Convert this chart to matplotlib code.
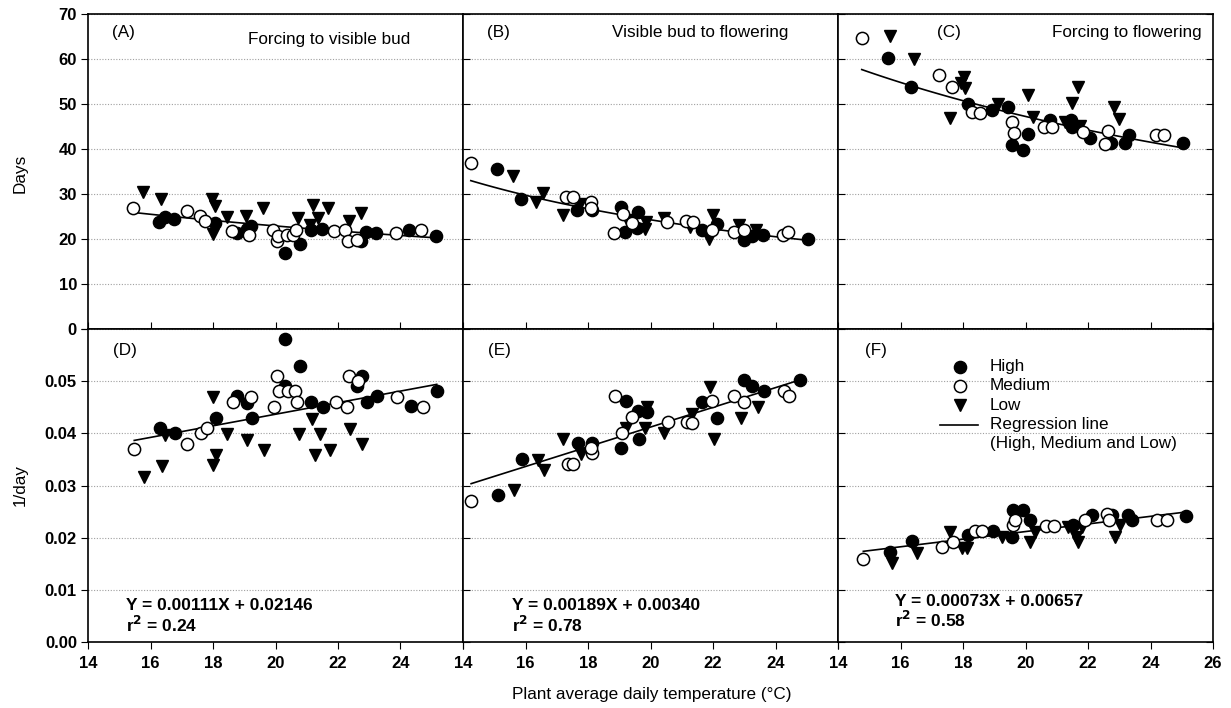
import numpy as np
import matplotlib
matplotlib.use("Agg")
import matplotlib.pyplot as plt

plt.rcParams['font.family'] = ['Liberation Sans', 'DejaVu Sans']

# ---------------- data: days (top row) ----------------
A_high_x = [16.28, 16.46, 16.75, 18.06, 18.76, 19.08, 19.21, 20.30, 20.78, 21.13, 21.50, 22.74, 22.90, 23.22, 24.28, 25.12]
A_high_y = [23.8, 24.8, 24.4, 23.5, 21.3, 22.2, 22.9, 17.0, 18.8, 22.0, 22.2, 19.6, 21.5, 21.3, 22.0, 20.7]
A_med_x = [15.45, 17.16, 17.58, 17.74, 18.62, 19.16, 19.93, 20.04, 20.09, 20.36, 20.57, 20.66, 21.88, 22.22, 22.33, 22.62, 23.86, 24.64]
A_med_y = [26.8, 26.3, 25.1, 24.1, 21.7, 21.0, 22.0, 19.6, 20.7, 20.8, 20.9, 22.0, 21.7, 22.0, 19.5, 19.8, 21.3, 22.0]
A_low_x = [15.75, 16.33, 17.96, 18.06, 17.99, 18.44, 19.06, 19.59, 20.73, 21.21, 21.37, 21.69, 21.10, 22.35, 22.73]
A_low_y = [30.5, 29.0, 28.9, 27.4, 21.1, 25.0, 25.1, 26.8, 24.7, 27.6, 24.6, 27.0, 23.1, 24.1, 25.7]

B_high_x = [15.08, 15.85, 17.64, 18.12, 19.05, 19.18, 19.61, 19.56, 21.64, 22.12, 22.98, 23.24, 23.61, 25.05]
B_high_y = [35.6, 28.8, 26.4, 26.4, 27.2, 21.5, 26.1, 22.4, 22.0, 23.3, 19.8, 20.7, 20.9, 20.1]
B_med_x = [14.25, 17.30, 17.51, 18.10, 18.09, 18.84, 19.11, 19.40, 20.54, 21.14, 21.37, 21.96, 22.66, 22.98, 24.23, 24.41]
B_med_y = [37.0, 29.4, 29.3, 28.3, 27.0, 21.4, 25.5, 23.5, 23.8, 24.1, 23.8, 22.0, 21.6, 22.0, 20.9, 21.5]
B_low_x = [15.59, 16.34, 16.55, 17.21, 17.74, 19.24, 19.82, 19.86, 20.43, 21.26, 21.88, 22.01, 22.84, 23.38]
B_low_y = [33.9, 28.3, 30.3, 25.3, 27.8, 24.2, 22.2, 23.8, 24.6, 22.7, 20.1, 25.3, 23.1, 22.0]

C_high_x = [15.59, 16.34, 18.15, 18.92, 19.45, 19.58, 19.91, 20.07, 20.78, 21.46, 21.50, 22.06, 22.74, 23.18, 23.31, 25.05]
C_high_y = [60.3, 53.7, 50.1, 48.7, 49.3, 40.9, 39.8, 43.3, 46.4, 46.4, 45.0, 42.4, 41.3, 41.3, 43.1, 41.3]
C_med_x = [14.76, 17.23, 17.64, 18.28, 18.54, 19.56, 19.64, 20.60, 20.84, 21.85, 22.63, 22.54, 24.17, 24.44]
C_med_y = [64.7, 56.4, 53.7, 48.3, 47.9, 46.1, 43.5, 45.0, 45.0, 43.8, 44.0, 41.1, 43.1, 43.1]
C_low_x = [15.66, 16.44, 17.58, 18.04, 17.94, 18.06, 19.13, 20.07, 20.25, 21.26, 21.67, 21.48, 21.74, 22.84, 22.98]
C_low_y = [65.1, 60.1, 47.0, 56.0, 54.6, 53.5, 50.0, 52.1, 47.2, 45.9, 53.7, 50.3, 45.1, 49.4, 46.7]

# ---------------- data: 1/day (bottom row) ----------------
D_high_x = [20.30, 20.78, 16.30, 16.78, 18.10, 18.76, 19.08, 19.24, 20.30, 21.13, 21.51, 22.60, 22.78, 22.92, 23.24, 24.32, 25.16]
D_high_y = [0.0581, 0.0530, 0.0411, 0.0400, 0.0430, 0.0472, 0.0459, 0.0430, 0.0491, 0.0461, 0.0451, 0.0491, 0.0510, 0.0461, 0.0472, 0.0452, 0.0482]
D_med_x = [15.48, 17.18, 17.62, 17.80, 18.65, 19.21, 19.95, 20.06, 20.12, 20.41, 20.62, 20.68, 21.92, 22.28, 22.35, 22.65, 23.89, 24.71]
D_med_y = [0.0370, 0.0380, 0.0400, 0.0410, 0.0461, 0.0470, 0.0451, 0.0510, 0.0481, 0.0481, 0.0481, 0.0461, 0.0461, 0.0451, 0.0510, 0.0500, 0.0470, 0.0451]
D_low_x = [15.79, 16.36, 16.46, 17.99, 18.10, 18.01, 18.46, 19.08, 19.63, 20.76, 21.16, 21.26, 21.42, 21.74, 22.38, 22.78]
D_low_y = [0.0317, 0.0337, 0.0397, 0.0339, 0.0358, 0.0469, 0.0398, 0.0388, 0.0368, 0.0399, 0.0427, 0.0358, 0.0399, 0.0368, 0.0408, 0.0379]

E_high_x = [15.11, 15.88, 17.67, 18.14, 19.06, 19.21, 19.59, 19.88, 19.62, 21.66, 22.14, 23.00, 23.24, 23.64, 24.78]
E_high_y = [0.0282, 0.0351, 0.0382, 0.0381, 0.0371, 0.0462, 0.0443, 0.0440, 0.0390, 0.0461, 0.0430, 0.0502, 0.0491, 0.0482, 0.0502]
E_med_x = [14.26, 17.35, 17.53, 18.12, 18.10, 18.86, 19.10, 19.42, 20.55, 21.16, 21.34, 21.96, 22.68, 23.00, 24.28, 24.43]
E_med_y = [0.0271, 0.0341, 0.0341, 0.0362, 0.0371, 0.0472, 0.0400, 0.0432, 0.0422, 0.0422, 0.0420, 0.0462, 0.0472, 0.0461, 0.0482, 0.0472]
E_low_x = [15.64, 16.39, 16.60, 17.21, 17.78, 19.21, 19.82, 19.88, 20.44, 21.32, 21.90, 22.04, 22.90, 23.43]
E_low_y = [0.0291, 0.0349, 0.0330, 0.0390, 0.0360, 0.0410, 0.0410, 0.0451, 0.0400, 0.0438, 0.0489, 0.0390, 0.0429, 0.0451]

F_high_x = [15.66, 16.36, 18.17, 18.97, 19.56, 19.59, 19.93, 20.14, 21.53, 22.12, 22.76, 23.29, 23.40, 25.14]
F_high_y = [0.0172, 0.0194, 0.0205, 0.0213, 0.0202, 0.0253, 0.0253, 0.0234, 0.0224, 0.0243, 0.0243, 0.0243, 0.0234, 0.0242]
F_med_x = [14.81, 17.32, 17.69, 18.38, 18.60, 19.59, 19.66, 20.66, 20.91, 21.90, 22.60, 22.68, 24.22, 24.52]
F_med_y = [0.0160, 0.0183, 0.0192, 0.0213, 0.0213, 0.0224, 0.0234, 0.0223, 0.0223, 0.0234, 0.0245, 0.0234, 0.0234, 0.0234]
F_low_x = [15.72, 16.52, 17.58, 17.96, 18.12, 19.24, 20.14, 20.30, 21.37, 21.69, 21.62, 21.80, 22.86, 23.02]
F_low_y = [0.0151, 0.0170, 0.0210, 0.0181, 0.0181, 0.0202, 0.0192, 0.0211, 0.0221, 0.0192, 0.0202, 0.0221, 0.0202, 0.0224]

# regression coefficients (slope, intercept) for 1/day = a*T + b
reg_slope = [0.00111, 0.00189, 0.00073]
reg_intercept = [0.02146, 0.00340, 0.00657]
reg_r2 = ["0.24", "0.78", "0.58"]

panel_letters_top = ["(A)", "(B)", "(C)"]
panel_letters_bot = ["(D)", "(E)", "(F)"]
panel_titles = ["Forcing to visible bud", "Visible bud to flowering", "Forcing to flowering"]

x_ticks = [14, 16, 18, 20, 22, 24, 26]
top_yticks = [0, 10, 20, 30, 40, 50, 60, 70]
bot_yticks = [0.00, 0.01, 0.02, 0.03, 0.04, 0.05, 0.06]

top_data = [
    (A_high_x, A_high_y, A_med_x, A_med_y, A_low_x, A_low_y),
    (B_high_x, B_high_y, B_med_x, B_med_y, B_low_x, B_low_y),
    (C_high_x, C_high_y, C_med_x, C_med_y, C_low_x, C_low_y),
]
bot_data = [
    (D_high_x, D_high_y, D_med_x, D_med_y, D_low_x, D_low_y),
    (E_high_x, E_high_y, E_med_x, E_med_y, E_low_x, E_low_y),
    (F_high_x, F_high_y, F_med_x, F_med_y, F_low_x, F_low_y),
]

W, H = 1231, 708
fig = plt.figure(figsize=(W / 100, H / 100), dpi=100)

x0, pw = 88, 375
top_y0, top_y1 = 14, 329
bot_y0, bot_y1 = 329, 642

MS = 8.8
TXT = 12.3
tick_font = dict(fontsize=12, fontweight='bold')


def draw_points(ax, d):
    hx, hy, mx, my, lx, ly = d
    ax.plot(lx, ly, 'v', ms=MS, color='black', mec='black', ls='none', zorder=3)
    ax.plot(hx, hy, 'o', ms=MS, color='black', mec='black', ls='none', zorder=3)
    ax.plot(mx, my, 'o', ms=MS, mfc='white', mec='black', mew=1.1, ls='none', zorder=3)


def style_axes(ax, col, row):
    for s in ax.spines.values():
        s.set_linewidth(1.2)
    ax.set_xlim(14, 26)
    ax.set_xticks(x_ticks)
    ax.grid(axis='y', color='#a0a0a0', linestyle=(0, (1, 1.5)), linewidth=0.8)
    ax.set_axisbelow(True)
    if row == 0:
        ax.tick_params(axis='x', direction='in', length=5, labelbottom=False)
    else:
        labels = [str(t) for t in x_ticks]
        if col < 2:
            labels[-1] = ''
        ax.set_xticklabels(labels, **tick_font)
        ax.tick_params(axis='x', direction='out', length=5, pad=5)
    if col == 0:
        ax.tick_params(axis='y', direction='out', length=5, left=True, right=False, pad=3)
    else:
        ax.tick_params(axis='y', direction='in', length=5, labelleft=False,
                       left=True, right=(col == 2))


for col in range(3):
    left = (x0 + pw * col) / W
    # top row
    ax = fig.add_axes([left, 1 - top_y1 / H, pw / W, (top_y1 - top_y0) / H])
    style_axes(ax, col, 0)
    ax.set_ylim(0, 70)
    ax.set_yticks(top_yticks)
    if col == 0:
        ax.set_yticklabels([str(t) for t in top_yticks], **tick_font)
    d = top_data[col]
    draw_points(ax, d)
    allx = np.array(d[0] + d[2] + d[4])
    xs = np.linspace(allx.min(), allx.max(), 100)
    ax.plot(xs, 1.0 / (reg_slope[col] * xs + reg_intercept[col]), color='black', lw=1.2, zorder=2)
    lx = [0.064, 0.064, 0.264][col]
    ax.text(lx, 0.94, panel_letters_top[col], transform=ax.transAxes, fontsize=TXT, va='center', ha='left')
    tx = [0.427, 0.397, 0.571][col]
    ty = [0.918, 0.94, 0.94][col]
    ax.text(tx, ty, panel_titles[col], transform=ax.transAxes, fontsize=TXT, va='center', ha='left')

    # bottom row
    ax = fig.add_axes([left, 1 - bot_y1 / H, pw / W, (bot_y1 - bot_y0) / H])
    style_axes(ax, col, 1)
    ax.set_ylim(0, 0.06)
    ax.set_yticks(bot_yticks)
    if col == 0:
        ylabels = ["%.2f" % t for t in bot_yticks]
        ylabels[-1] = ''
        ax.set_yticklabels(ylabels, **tick_font)
    d = bot_data[col]
    draw_points(ax, d)
    allx = np.array(d[0] + d[2] + d[4])
    xs = np.array([allx.min(), allx.max()])
    ax.plot(xs, reg_slope[col] * xs + reg_intercept[col], color='black', lw=1.2, zorder=2)
    lx = [0.067, 0.067, 0.072][col]
    ax.text(lx, 0.93, panel_letters_bot[col], transform=ax.transAxes, fontsize=TXT, va='center', ha='left')
    ex = [(126 - 88) / pw, (512 - 463) / pw, (895 - 838) / pw][col]
    ey1 = [1 - (606 - 329) / 313, 1 - (606 - 329) / 313, 1 - (602 - 329) / 313][col]
    ey2 = [1 - (625 - 329) / 313, 1 - (625 - 329) / 313, 1 - (620 - 329) / 313][col]
    ax.text(ex, ey1, "Y = %.5fX + %.5f" % (reg_slope[col], reg_intercept[col]),
            transform=ax.transAxes, fontsize=12.5, fontweight='bold', va='center', ha='left')
    ax.text(ex, ey2, r"r$^{\mathbf{2}}$" + " = " + reg_r2[col],
            transform=ax.transAxes, fontsize=12.5, fontweight='bold', va='center', ha='left')

    if col == 2:
        # legend drawn in axes coordinates
        def fx(px):
            return (px - 838) / pw

        def fy(py):
            return 1 - (py - 329) / 313
        ax.plot([fx(960)], [fy(367)], 'o', ms=MS, color='black', transform=ax.transAxes, clip_on=False)
        ax.plot([fx(960)], [fy(386)], 'o', ms=MS, mfc='white', mec='black', mew=1.1, transform=ax.transAxes, clip_on=False)
        ax.plot([fx(960)], [fy(405)], 'v', ms=MS, color='black', transform=ax.transAxes, clip_on=False)
        ax.plot([fx(940), fx(978)], [fy(425), fy(425)], color='black', lw=1.2, transform=ax.transAxes)
        for py, t in [(367, "High"), (386, "Medium"), (405, "Low"),
                      (425, "Regression line"), (443, "(High, Medium and Low)")]:
            ax.text(fx(990), fy(py), t, transform=ax.transAxes, fontsize=TXT, va='center', ha='left')

fig.text(20 / W, 1 - 173 / H, "Days", fontsize=TXT, rotation=90, ha='center', va='center')
fig.text(20 / W, 1 - 485 / H, "1/day", fontsize=TXT, rotation=90, ha='center', va='center')
fig.text(652 / W, 1 - 694 / H, "Plant average daily temperature (°C)", fontsize=TXT, ha='center', va='center')

fig.savefig("out.png", dpi=100)
